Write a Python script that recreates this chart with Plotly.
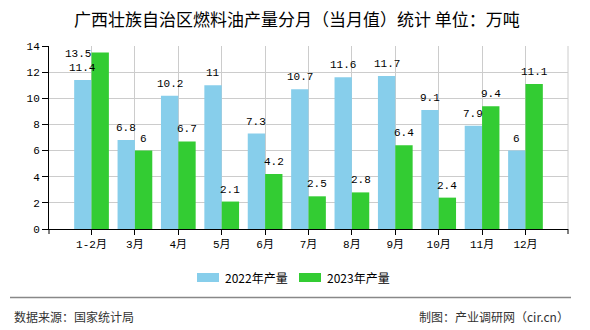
import plotly.graph_objects as go

# Monthly fuel-oil output, Guangxi (10k tonnes)
months = ["1-2月", "3月", "4月", "5月", "6月", "7月", "8月", "9月", "10月", "11月", "12月"]
output_2022 = [11.4, 6.8, 10.2, 11, 7.3, 10.7, 11.6, 11.7, 9.1, 7.9, 6]
output_2023 = [13.5, 6, 6.7, 2.1, 4.2, 2.5, 2.8, 6.4, 2.4, 9.4, 11.1]
series_names = ["2022年产量", "2023年产量"]
series_colors = ["#87CEEB", "#33CC33"]
y_ticks = [0, 2, 4, 6, 8, 10, 12, 14]

W, H = 590, 330
ML, MR, MT, MB = 49, 22, 46, 101
PW, PH = W - ML - MR, H - MT - MB
X_RANGE = [-0.98, 10.98]
Y_RANGE = [0, 14]
BARGAP = 0.2

NUM_FONT = "Liberation Mono, DejaVu Sans Mono, Noto Sans CJK SC"
CJK_FONT = "Noto Sans CJK SC, Noto Sans, sans-serif"


def px_x(x):
    return (x - ML) / PW


def px_y(y):
    return (H - MB - y) / PH


fig = go.Figure()
for name, vals, col in zip(series_names, [output_2022, output_2023], series_colors):
    fig.add_trace(go.Bar(x=months, y=vals, name=name, marker=dict(color=col, line=dict(width=0)),
                         showlegend=False))

# value labels above each bar
unit_px = PW / (X_RANGE[1] - X_RANGE[0])
bar_w = unit_px * (1 - BARGAP) / 2
px_per_val = PH / (Y_RANGE[1] - Y_RANGE[0])
annotations = []
for si, vals in enumerate([output_2022, output_2023]):
    off = (si - 0.5) * bar_w
    for m, v in zip(months, vals):
        if (Y_RANGE[1] - v) * px_per_val < 14:
            # not enough room above: place beside the bar, to the left
            annotations.append(dict(x=m, y=v, xref="x", yref="y", text=f"{v:g}", showarrow=False,
                                    xanchor="right", yanchor="middle", xshift=off - bar_w / 2 + 1,
                                    yshift=-1, font=dict(family=NUM_FONT, size=11, color="#000")))
        else:
            annotations.append(dict(x=m, y=v, xref="x", yref="y", text=f"{v:g}", showarrow=False,
                                    xanchor="center", yanchor="bottom", xshift=off, yshift=4,
                                    font=dict(family=NUM_FONT, size=11, color="#000")))

# title
annotations.append(dict(x=px_x(297), y=px_y(18), xref="paper", yref="paper",
                        text="广西壮族自治区燃料油产量分月（当月值）统计 单位：万吨",
                        showarrow=False, xanchor="center", yanchor="middle",
                        font=dict(family=CJK_FONT, size=17, color="#000")))

shapes = []
# right border of plot area
shapes.append(dict(type="line", xref="paper", yref="paper", x0=1, x1=1, y0=0, y1=1,
                   line=dict(color="#cccccc", width=1)))
# end tick marks of the category axis
for xe in (0, 1):
    shapes.append(dict(type="line", xref="paper", yref="paper", x0=xe, x1=xe, y0=0, y1=px_y(H - MB + 5),
                       line=dict(color="#000", width=1)))

# legend
leg = [(197, 223), (299, 325)]
for (sx, tx), name, col in zip(leg, series_names, series_colors):
    shapes.append(dict(type="rect", xref="paper", yref="paper", x0=px_x(sx), x1=px_x(sx + 22),
                       y0=px_y(282), y1=px_y(273), fillcolor=col, line=dict(width=0)))
    annotations.append(dict(x=px_x(tx), y=px_y(277), xref="paper", yref="paper", text=name, showarrow=False,
                            xanchor="left", yanchor="middle", font=dict(family=CJK_FONT, size=12, color="#000")))

# footer
shapes.append(dict(type="line", xref="paper", yref="paper", x0=px_x(10), x1=px_x(571), y0=px_y(297.5),
                   y1=px_y(297.5), line=dict(color="#888888", width=1.5)))
annotations.append(dict(x=px_x(12), y=px_y(316), xref="paper", yref="paper", text="数据来源：国家统计局",
                        showarrow=False, xanchor="left", yanchor="middle",
                        font=dict(family=CJK_FONT, size=12, color="#333")))
annotations.append(dict(x=px_x(571), y=px_y(316), xref="paper", yref="paper", text="制图：产业调研网（cir.cn）",
                        showarrow=False, xanchor="right", yanchor="middle",
                        font=dict(family=CJK_FONT, size=12, color="#333")))

fig.update_layout(
    width=W, height=H,
    margin=dict(l=ML, r=MR, t=MT, b=MB, pad=0),
    paper_bgcolor="white", plot_bgcolor="white",
    barmode="group", bargap=BARGAP, bargroupgap=0,
    showlegend=False,
    annotations=annotations, shapes=shapes,
    xaxis=dict(type="category", range=X_RANGE, showgrid=True, gridcolor="#cccccc", gridwidth=1,
               showline=True, linecolor="#000", linewidth=1, ticks="outside", ticklen=5, tickcolor="#000",
               tickfont=dict(family=NUM_FONT, size=11, color="#000"), zeroline=False, fixedrange=True),
    yaxis=dict(range=Y_RANGE, tickvals=y_ticks, showgrid=True, gridcolor="#cccccc", gridwidth=1,
               showline=True, linecolor="#000", linewidth=1, ticks="outside", ticklen=6, tickcolor="#000",
               tickfont=dict(family=NUM_FONT, size=11, color="#000"), zeroline=False, fixedrange=True),
)

fig.write_html("out.html")
